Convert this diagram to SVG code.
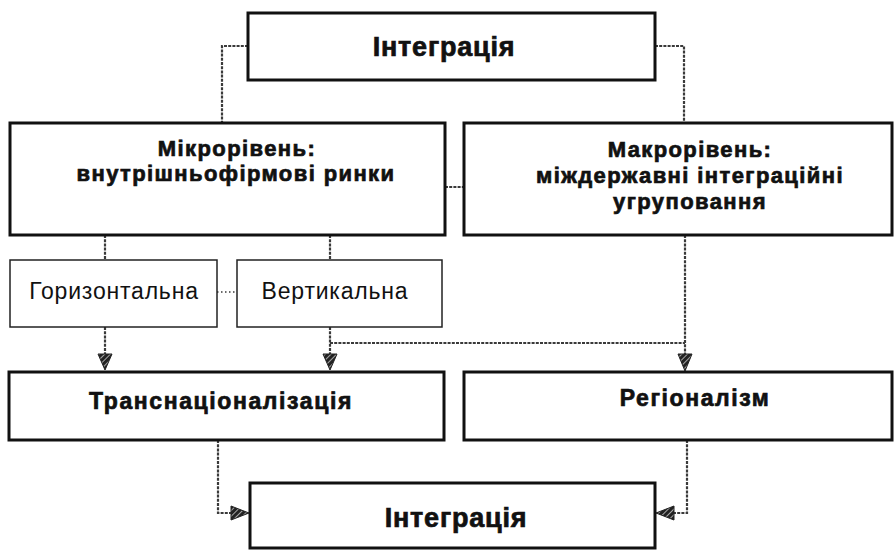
<svg xmlns="http://www.w3.org/2000/svg" width="896" height="551" viewBox="0 0 896 551">
  <style>
    .box { fill: #fff; stroke: #111; stroke-width: 3; }
    .sub { fill: #fff; stroke: #222; stroke-width: 1.5; }
    .bt { font-family: "Liberation Sans", Arial, sans-serif; font-weight: bold; font-size: 22px; fill: #111; stroke: #111; stroke-width: 0.7; text-anchor: middle; letter-spacing: 1.4px; }
    .big { font-size: 27px; letter-spacing: 0.8px; }
    .wide { font-size: 23px; letter-spacing: 1.6px; }
    .rt { font-family: "Liberation Sans", Arial, sans-serif; font-size: 23px; fill: #111; text-anchor: middle; letter-spacing: 0.8px; }
    .link { fill: none; stroke: #3a3a3a; stroke-width: 2.2; stroke-dasharray: 3 1.2; }
    .thin { stroke-width: 1.4; stroke-dasharray: 1.5 2.5; }
    .head { fill: url(#hatch); stroke: #222; stroke-width: 1; }
  </style>
  <defs>
    <!-- dark diagonal hatching for the arrowheads -->
    <pattern id="hatch" width="4" height="4" patternUnits="userSpaceOnUse" patternTransform="rotate(45)">
      <rect width="4" height="4" fill="#222"/>
      <line x1="0" y1="0" x2="0" y2="4" stroke="#fff" stroke-width="1.2"/>
    </pattern>
  </defs>

  <rect width="896" height="551" fill="#fff"/>

  <g id="connectors">
    <!-- top box to the two levels -->
    <polyline class="link" points="248,46 222,46 222,123"/>
    <polyline class="link" points="655,46 684,46 684,123"/>
    <!-- between micro and macro -->
    <line class="link" x1="445" y1="187" x2="464" y2="187"/>
    <!-- micro level to its two kinds -->
    <line class="link" x1="105" y1="235" x2="105" y2="260"/>
    <line class="link" x1="330" y1="235" x2="330" y2="260"/>
    <line class="link thin" x1="217" y1="292" x2="237" y2="292"/>
    <!-- kinds down to transnationalisation -->
    <line class="link" x1="105" y1="327" x2="105" y2="354"/>
    <line class="link" x1="330" y1="327" x2="330" y2="354"/>
    <line class="link" x1="330" y1="343" x2="685" y2="343"/>
    <!-- macro level down to regionalism -->
    <line class="link" x1="685" y1="235" x2="685" y2="354"/>
    <!-- lower row to bottom box -->
    <polyline class="link" points="218,440 218,513 232,513"/>
    <polyline class="link" points="687,440 687,513 672,513"/>
    <!-- hatched arrowheads -->
    <polygon class="head" points="98,354 112,354 105,370"/>
    <polygon class="head" points="323,354 337,354 330,370"/>
    <polygon class="head" points="678,354 692,354 685,371"/>
    <polygon class="head" points="231,506 231,520 249,513"/>
    <polygon class="head" points="674,506 674,520 656,513"/>
  </g>

  <g id="integration-top">
    <rect class="box" x="248" y="13" width="407" height="67"/>
    <text class="bt big" x="444" y="56">Інтеграція</text>
  </g>

  <g id="micro-level">
    <rect class="box" x="10" y="123" width="435" height="112"/>
    <text class="bt" x="237" y="156">Мікрорівень:</text>
    <text class="bt" x="236" y="181">внутрішньофірмові ринки</text>
  </g>

  <g id="macro-level">
    <rect class="box" x="464" y="123" width="428" height="112"/>
    <text class="bt" x="690" y="157">Макрорівень:</text>
    <text class="bt" x="690" y="183">міждержавні інтеграційні</text>
    <text class="bt" x="690" y="209">угруповання</text>
  </g>

  <g id="horizontal">
    <rect class="sub" x="10" y="260" width="207" height="67"/>
    <text class="rt" x="114" y="299">Горизонтальна</text>
  </g>

  <g id="vertical">
    <rect class="sub" x="237" y="260" width="205" height="67"/>
    <text class="rt" x="335" y="299">Вертикальна</text>
  </g>

  <g id="transnationalisation">
    <rect class="box" x="9" y="372" width="435" height="68"/>
    <text class="bt wide" x="221" y="409">Транснаціоналізація</text>
  </g>

  <g id="regionalism">
    <rect class="box" x="464" y="372" width="428" height="68"/>
    <text class="bt wide" x="695" y="406">Регіоналізм</text>
  </g>

  <g id="integration-bottom">
    <rect class="box" x="250" y="483" width="405" height="65"/>
    <text class="bt big" x="456" y="527">Інтеграція</text>
  </g>
</svg>
